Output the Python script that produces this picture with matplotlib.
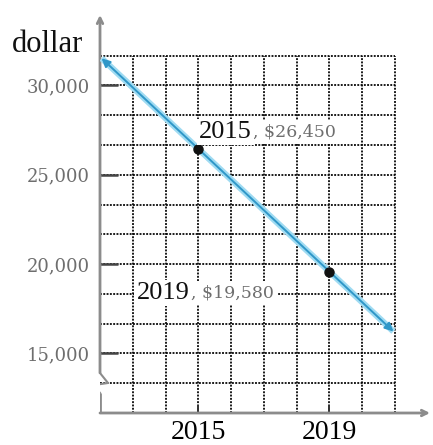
import numpy as np
import matplotlib.pyplot as plt

# car value data
years = [2015, 2019]
values = [26450, 19580]
year_labels = ["2015", "2019"]
value_labels = ["$26,450", "$19,580"]
ytick_values = [15000, 20000, 25000, 30000]
ytick_labels = ["15,000", "20,000", "25,000", "30,000"]

x0, x1 = 2012, 2021
y0, y1 = 35000 / 3, 95000 / 3   # grid runs 11,666.67 .. 31,666.67
ystep = 5000 / 3

serif = "Liberation Serif"
gray = "#6e6e6e"
axis_gray = "#8c8c8c"

fig = plt.figure(figsize=(4.33, 4.45), dpi=100)
ax = fig.add_axes([100 / 433, 32 / 445, 330 / 433, 398 / 445])
ax.set_xlim(x0, x0 + 330 / 32.78)
ax.set_ylim(y0, y0 + 398 / 0.017867)
for s in ax.spines.values():
    s.set_visible(False)

# dotted grid
grid_kw = dict(color="#000000", lw=1.25, linestyle=(0, (1.1, 0.8)), zorder=1)
for gx in range(x0 + 1, x1 + 1):
    ax.plot([gx, gx], [y0, y1], **grid_kw)
for gy in np.arange(y0 + ystep, y1 + 1, ystep):
    ax.plot([x0, x1], [gy, gy], **grid_kw)

# axes with arrows
px_x = 1 / 32.78
px_y = 1 / 0.017867
ax.annotate("", xy=(x0 + 330 * px_x, y0), xytext=(x0, y0),
            arrowprops=dict(arrowstyle="->", color=axis_gray, lw=2,
                            shrinkA=0, shrinkB=0), annotation_clip=False)
brk_lo = y0 + 20 * px_y
brk_hi = y0 + 40 * px_y
ax.plot([x0, x0], [y0, brk_lo], color=axis_gray, lw=2, solid_capstyle="butt")
ax.plot([x0, x0 - 6 * px_x, x0 + 8 * px_x, x0],
        [brk_lo, brk_lo + 8 * px_y, brk_lo + 10 * px_y, brk_hi],
        color=axis_gray, lw=1.5)
ax.annotate("", xy=(x0, y0 + 398 * px_y), xytext=(x0, brk_hi),
            arrowprops=dict(arrowstyle="->", color=axis_gray, lw=2,
                            shrinkA=0, shrinkB=0), annotation_clip=False)

# ticks
ax.set_yticks(ytick_values, ytick_labels)
ax.set_xticks(years, year_labels)
ax.tick_params(axis="y", direction="in", length=13, width=1.8, color="#444444",
               pad=7, labelcolor=gray)
ax.tick_params(axis="x", direction="in", length=6, width=1.4, color="#333333",
               pad=5, labelsize=20)
for lab in ax.get_yticklabels():
    lab.set_fontfamily("DejaVu Serif")
    lab.set_fontsize(13)
for lab in ax.get_xticklabels():
    lab.set_fontfamily(serif)

# value line through the two points
slope = (values[1] - values[0]) / (years[1] - years[0])
lx = [x0 + 0.05, x1 - 0.05]
ly = [values[0] + slope * (x - years[0]) for x in lx]
ax.plot(lx, ly, color="#9fdbf2", lw=4.5, zorder=3, solid_capstyle="butt")
ax.annotate("", xy=(lx[0], ly[0]), xytext=(lx[1], ly[1]),
            arrowprops=dict(arrowstyle="<|-|>,head_length=0.5,head_width=0.25",
                            color="#2f97c8", lw=1.4, shrinkA=0, shrinkB=0),
            zorder=4)
ax.plot(years, values, "o", color="#111111", ms=6.5, zorder=5)

# point labels
offsets = [(0.5, 8), (-139, -19.5)]
for yr, v, yl, vl, off in zip(years, values, year_labels, value_labels, offsets):
    big = ax.annotate(yl, xy=(yr, v), xytext=off, textcoords="offset points",
                      ha="left", va="baseline", fontsize=19, family=serif,
                      color="#111111", zorder=7,
                      bbox=dict(facecolor="white", edgecolor="none", pad=1.5))
    ax.annotate(", " + vl, xy=(1, 0), xycoords=big, xytext=(1, 1.5),
                textcoords="offset points", ha="left", va="bottom",
                fontsize=12.5, family="DejaVu Serif", color=gray, zorder=6,
                bbox=dict(facecolor="white", edgecolor="none", pad=2.5))

fig.text(12 / 433, 1 - 45 / 445, "dollar", fontsize=22, family=serif,
         color="#111111", va="center", ha="left")

fig.savefig("out.png", dpi=100)
